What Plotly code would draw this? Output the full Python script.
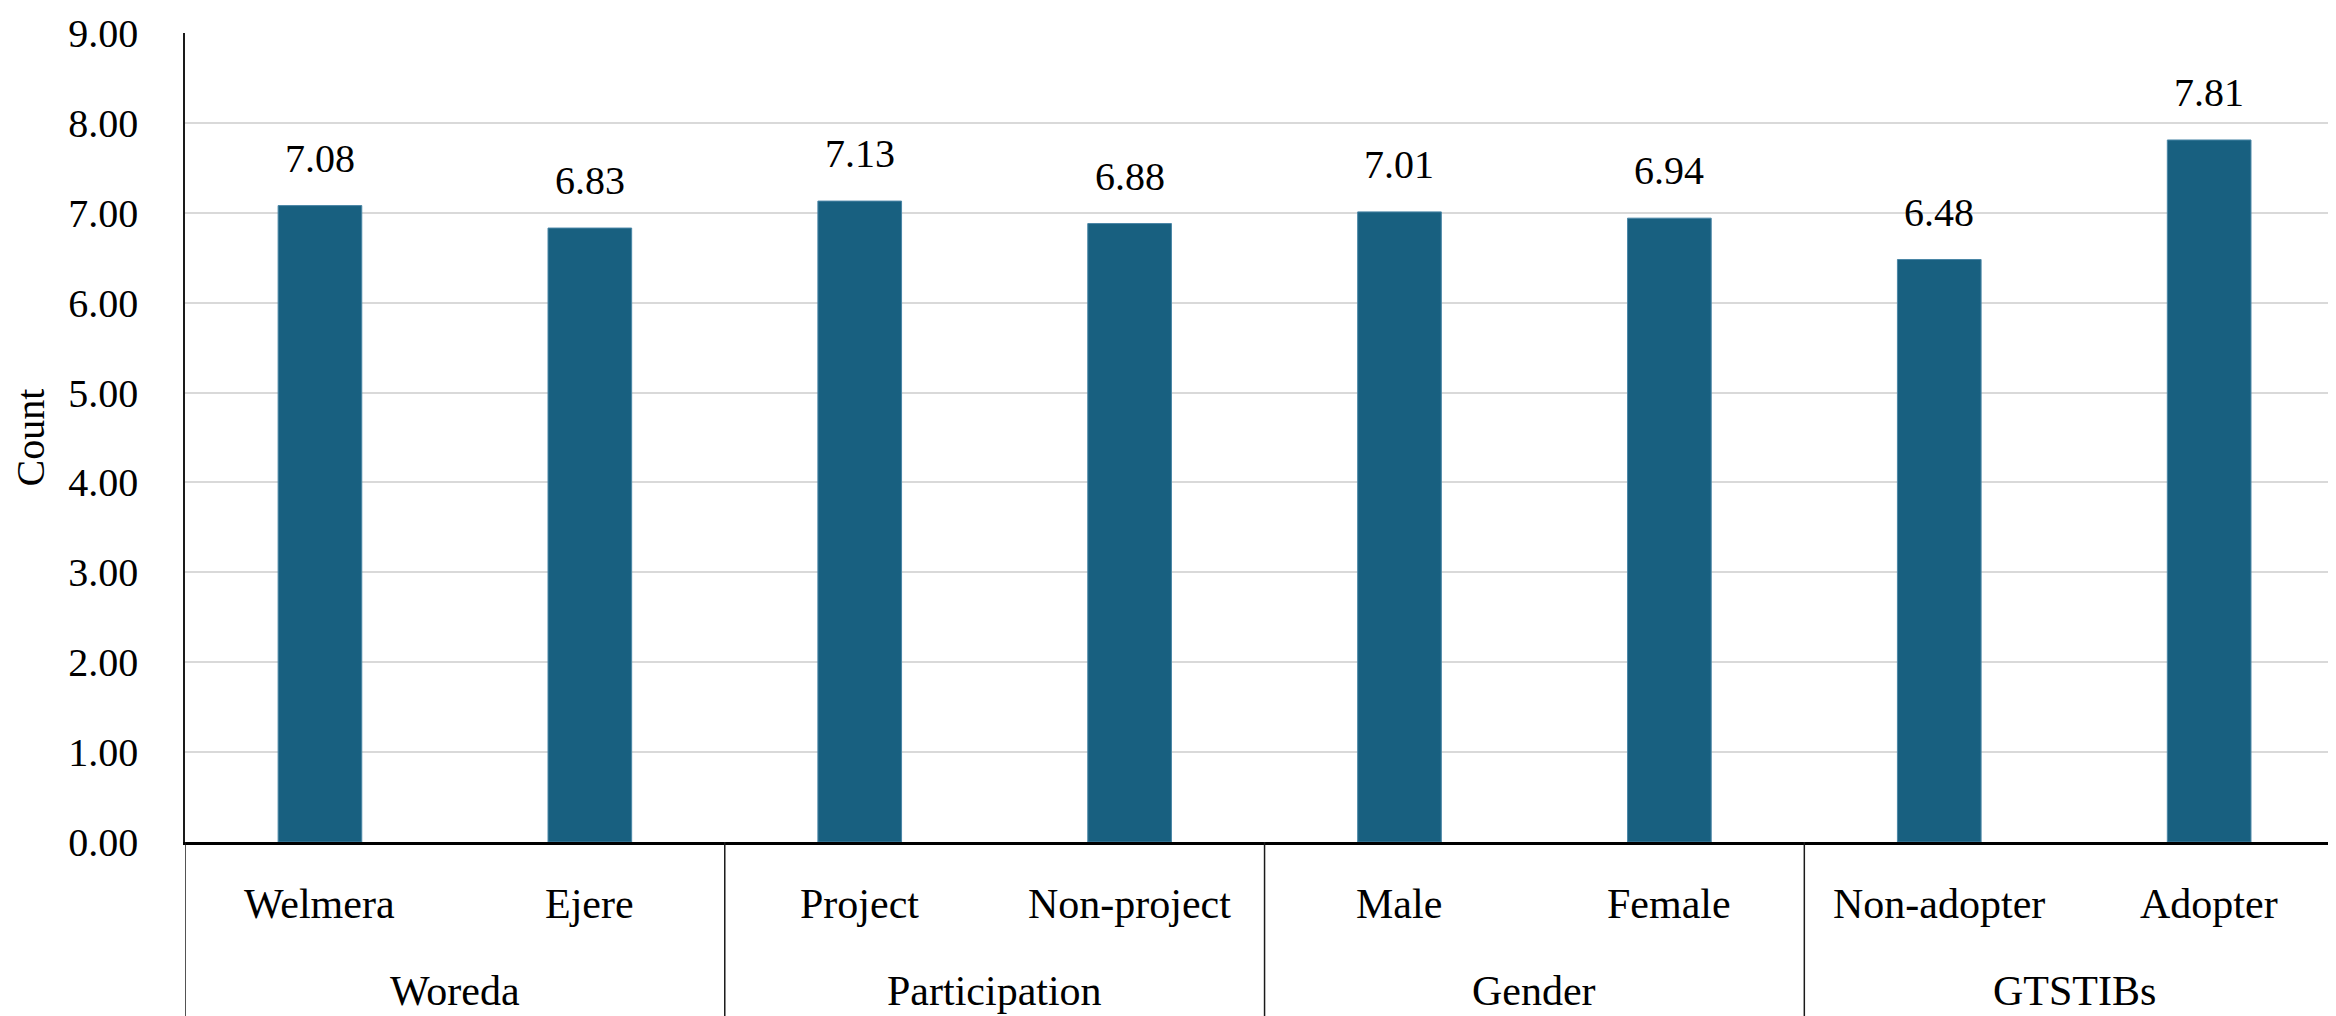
import plotly.graph_objects as go

categories = ["Welmera", "Ejere", "Project", "Non-project", "Male", "Female", "Non-adopter", "Adopter"]
groups = ["Woreda", "Participation", "Gender", "GTSTIBs"]
group_sizes = [2, 2, 2, 2]
values = [7.08, 6.83, 7.13, 6.88, 7.01, 6.94, 6.48, 7.81]
y_ticks = [0, 1, 2, 3, 4, 5, 6, 7, 8, 9]

FONT = "Palatino Linotype, Book Antiqua, Palatino, Liberation Serif, serif"
BAR = "#186080"

x = list(range(len(categories)))

fig = go.Figure()
fig.add_trace(go.Bar(
    x=x, y=values, width=0.31,
    marker=dict(color=BAR, line=dict(color="#4a86a6", width=1)),
    showlegend=False, hoverinfo="skip",
))

annotations = []
for xi, v in zip(x, values):
    annotations.append(dict(x=xi, y=v, xref="x", yref="y", text=f"{v:.2f}",
                            showarrow=False, yanchor="bottom", yshift=23,
                            font=dict(family=FONT, size=40, color="black")))
for xi, c in zip(x, categories):
    annotations.append(dict(x=xi, y=0, xref="x", yref="paper", text=c,
                            showarrow=False, yanchor="middle", yshift=-62,
                            font=dict(family=FONT, size=42, color="black")))

shapes = []
start = 0
bounds = [-0.5]
for g, n in zip(groups, group_sizes):
    center = start + (n - 1) / 2
    annotations.append(dict(x=center, y=0, xref="x", yref="paper", text=g,
                            showarrow=False, yanchor="middle", yshift=-149,
                            font=dict(family=FONT, size=42, color="black")))
    start += n
    bounds.append(start - 0.5)

for b in bounds[:-1]:
    shapes.append(dict(type="line", xref="x", yref="paper", x0=b, x1=b, y0=0, y1=-0.3,
                       line=dict(color="#1a1a1a", width=1.5)))

fig.update_layout(
    width=2328, height=1008,
    margin=dict(l=177, r=0, t=25, b=174),
    paper_bgcolor="white", plot_bgcolor="white",
    font=dict(family=FONT, size=40, color="black"),
    annotations=annotations, shapes=shapes,
)
fig.update_xaxes(range=[-0.5, 7.47], showticklabels=False, showgrid=False,
                 showline=True, linecolor="black", linewidth=3, zeroline=False,
                 ticks="")
fig.update_yaxes(range=[0, 9], tickvals=y_ticks, ticktext=[f"{t:.2f}" for t in y_ticks],
                 showgrid=True, gridcolor="#d9d9d9", gridwidth=2,
                 showline=True, linecolor="#1a1a1a", linewidth=1.5, zeroline=False,
                 ticks="", ticklabelstandoff=37,
                 tickfont=dict(family=FONT, size=40, color="black"),
                 title=dict(text="Count", standoff=14,
                            font=dict(family=FONT, size=40, color="black")))

fig.write_html("out.html")
